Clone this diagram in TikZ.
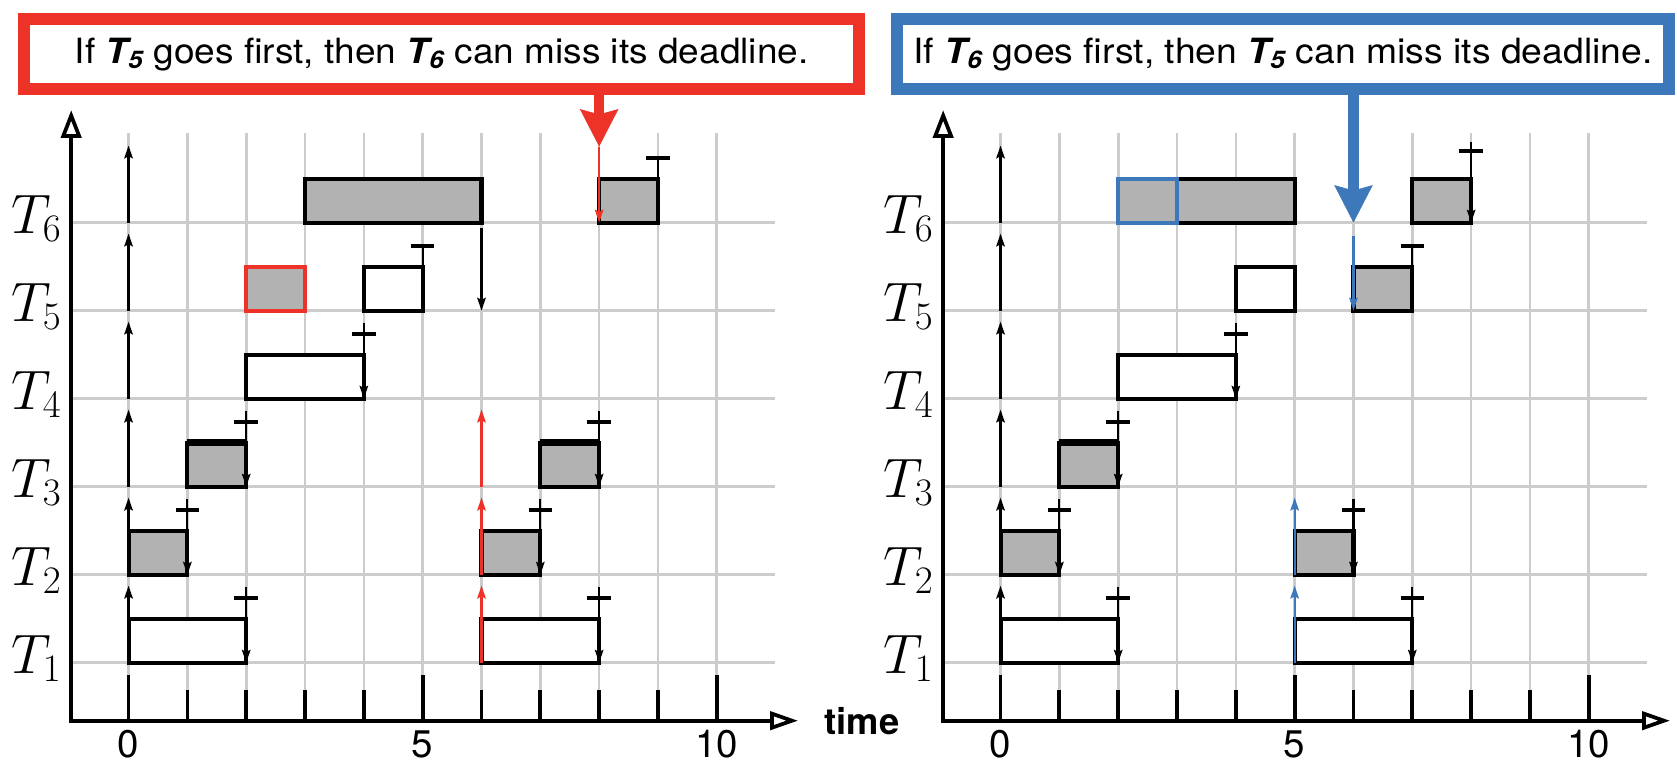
\RequirePackage{fix-cm}
\documentclass[tikz,border=0pt]{standalone}
\usepackage[no-math]{fontspec}
\usepackage{graphicx}
\newfontfamily\hv{TeX Gyre Heros}
\usetikzlibrary{arrows.meta}
\definecolor{cred}{RGB}{237,50,39}
\definecolor{cblue}{RGB}{60,120,186}
\definecolor{gridgray}{RGB}{204,204,204}
\definecolor{boxgray}{RGB}{178,178,178}
\tikzset{
 gridline/.style={gridgray, line width=2.5pt},
 axisline/.style={line width=3.5pt, {Triangle[open,length=26pt,width=19pt]}-{Triangle[open,length=26pt,width=17pt]}},
 tickline/.style={line width=3.5pt},
 busy/.style={draw=black, line width=3.8pt, fill=boxgray},
 idle/.style={draw=black, line width=3.8pt, fill=white},
 relline/.style={line width=2pt, -{Stealth[length=12pt,width=8pt,inset=2pt]}},
 dlline/.style={line width=2pt, -{Stealth[length=12pt,width=8pt,inset=2pt]}},
 teeline/.style={line width=2pt},
 dlbar/.style={line width=3.5pt},
 callout/.style={line width=11pt, fill=white, inner sep=0pt},
 callarrow/.style={line width=10pt, -{Stealth[length=35pt,width=36pt,inset=5pt,line width=0.5pt]}},
 tlabel/.style={anchor=base east, inner sep=0pt, font=\fontsize{52}{60}\selectfont},
 ticklabel/.style={inner sep=0pt, font=\hv\fontsize{36}{40}\selectfont},
}
\newcommand\chartframe{%
 \foreach \t in {0,...,10} \draw[gridline] (\t,-0.659) -- (\t,6.013);
 \foreach \r in {0,...,5} \draw[gridline] (-0.975,\r) -- (10.99,\r);
 \foreach \t in {0,...,10} \draw[tickline] (\t,-0.659) -- (\t,-0.309);
 \foreach \t in {0,5,10} \draw[tickline] (\t,-0.659) -- (\t,-0.139);
 \draw[axisline] (-0.975,6.277) -- (-0.975,-0.659) -- (11.38,-0.659);
 \foreach \t in {0,5,10} \node[ticklabel] (tk\t) at (\t,-0.928) {\t};
 \foreach \k in {1,...,6} \node[tlabel] (T\k) at (-1.139,\k-1-0.1215) {$T_{\k}$};
}
\newcommand\jobbox[4][busy]{\draw[#1] (#3,#2-1) rectangle (#4,#2-1+0.496);}
\newcommand\thicktop[3]{\draw[line width=6pt] (#2,#1-1+0.5) -- (#3,#1-1+0.5);}
\newcommand\relarr[3][black]{\draw[relline,#1] (#3,#2-1) -- (#3,#2-1+0.875);}
\newcommand\dlplus[2]{\draw[dlline] (#2,#1-1+0.86) -- (#2,#1-1); \draw[dlbar] (#2-0.2,#1-1+0.735) -- (#2+0.2,#1-1+0.735);}
\newcommand\dltee[2]{\draw[teeline] (#2,#1-1+0.735) -- (#2,#1-1+0.496); \draw[dlbar] (#2-0.2,#1-1+0.735) -- (#2+0.2,#1-1+0.735);}
\begin{document}
\begin{tikzpicture}[x=1pt,y=-1pt]
\useasboundingbox (0,0) rectangle (1568,716);
% ---------- left chart ----------
\begin{scope}[shift={(120.2pt,-619.6pt)}, x=55pt, y=82.3pt, name prefix=L-]
 \chartframe
 \jobbox[idle]{1}{0}{2} \jobbox[idle]{1}{6}{8}
 \jobbox{2}{0}{1} \jobbox{2}{6}{7}
 \jobbox{3}{1}{2} \jobbox{3}{7}{8}
 \thicktop{3}{1}{2} \thicktop{3}{7}{8}
 \jobbox[idle]{4}{2}{4}
 \jobbox[busy,draw=cred]{5}{2}{3} \jobbox[idle]{5}{4}{5}
 \jobbox{6}{3}{6} \jobbox{6}{8}{9}
 \foreach \k in {1,...,6} {\relarr{\k}{0}}
 \relarr[cred]{1}{6} \relarr[cred]{2}{6} \relarr[cred]{3}{6}
 \dlplus{1}{2} \dlplus{1}{8} \dlplus{2}{1} \dlplus{2}{7} \dlplus{3}{2} \dlplus{3}{8} \dlplus{4}{4}
 \dltee{5}{5} \dltee{6}{9}
 \draw[dlline] (6,4.94) -- (6,4);
 \coordinate (redtip) at (8,5.864);
 \draw[dlline,cred] (redtip) -- (8,5);
\end{scope}
% ---------- right chart ----------
\begin{scope}[shift={(935.5pt,-619.6pt)}, x=55pt, y=82.3pt, name prefix=R-]
 \chartframe
 \jobbox[idle]{1}{0}{2} \jobbox[idle]{1}{5}{7}
 \jobbox{2}{0}{1} \jobbox{2}{5}{6}
 \jobbox{3}{1}{2}
 \thicktop{3}{1}{2}
 \jobbox[idle]{4}{2}{4}
 \jobbox[idle]{5}{4}{5} \jobbox{5}{6}{7}
 \jobbox{6}{3}{5} \jobbox[busy,draw=cblue]{6}{2}{3} \jobbox{6}{7}{8}
 \foreach \k in {1,...,6} {\relarr{\k}{0}}
 \relarr[cblue]{1}{5} \relarr[cblue]{2}{5}
 \dlplus{1}{2} \dlplus{1}{7} \dlplus{2}{1} \dlplus{2}{6} \dlplus{3}{2} \dlplus{4}{4}
 \draw[dlline] (8,5.92) -- (8,5); \draw[dlbar] (7.8,5.81) -- (8.2,5.81);
 \dltee{5}{7}
 \coordinate (bluetip) at (6,5);
 \draw[dlline,cblue] (6,4.843) -- (6,4);
\end{scope}
% ---------- time label ----------
\node[font=\hv\bfseries\fontsize{34}{40}\selectfont, anchor=base, inner sep=0pt] (timelbl) at (806,687) {time};
% ---------- callouts ----------
\node[callout, draw=cred, minimum width=781pt, minimum height=65.5pt] (cr) at (413,50.75)
 {\resizebox{686pt}{\height}{\hv\fontsize{32.5}{39}\selectfont If {\bfseries\itshape T\textsubscript{5}} goes first, then {\bfseries\itshape T\textsubscript{6}} can miss its deadline.}};
\node[callout, draw=cblue, minimum width=722pt, minimum height=65.5pt] (cb) at (1199.5,50.75)
 {\resizebox{691pt}{\height}{\hv\fontsize{32.5}{39}\selectfont If {\bfseries\itshape T\textsubscript{6}} goes first, then {\bfseries\itshape T\textsubscript{5}} can miss its deadline.}};
\draw[callarrow, cred] (cr.south -| L-redtip) -- (L-redtip);
\draw[callarrow, cblue] (cb.south -| R-bluetip) -- (R-bluetip);
\end{tikzpicture}
\end{document}
